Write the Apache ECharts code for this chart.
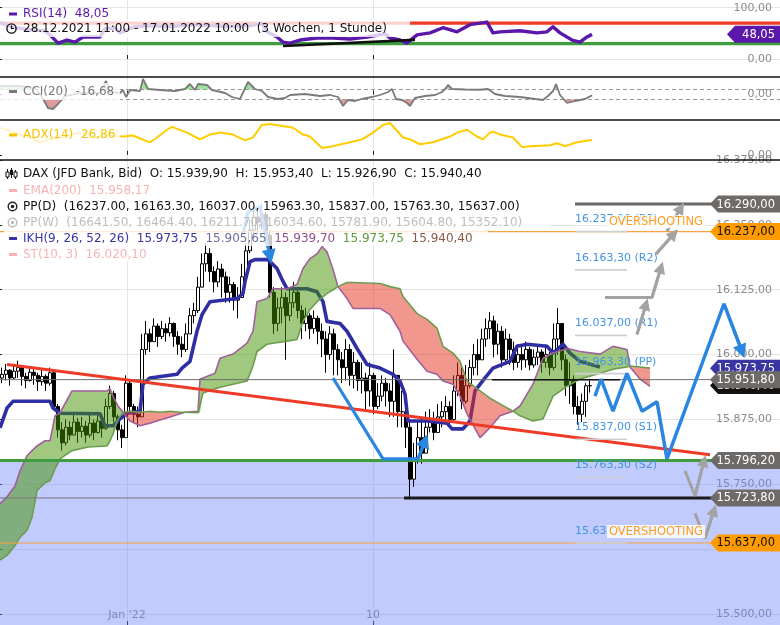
<!DOCTYPE html>
<html>
<head>
<meta charset="utf-8">
<title>DAX</title>
<script src="https://cdn.jsdelivr.net/npm/echarts@6.0.0/dist/echarts.min.js"></script>
<style>
html,body{margin:0;padding:0;background:#fff;}
#chart{width:780px;height:625px;}
</style>
</head>
<body>
<div id="chart"></div>
<script>
// ================= DATA =================
const SLOT_COUNT = 195; // time slots (candles + projection space)
const firstOpen = 15955;
const candleClose = [
15962,15970,15955,15968,15975,15958,15950,15966,15960,15948,
15958,15945,15965,15900,15855,15830,15860,15845,15870,15852,
15862,15845,15868,15850,15872,15858,15900,15925,15880,15855,
15840,15945,15900,15885,15880,16010,16040,16025,16055,16035,
16050,16042,16060,16035,16020,16010,16040,16075,16085,16130,
16175,16195,16160,16140,16165,16150,16120,16135,16105,16110,
16150,16200,16240,16265,16255,16270,16230,16120,16060,16090,
16110,16075,16100,16120,16085,16060,16075,16050,16070,16045,
16030,16000,16040,16010,15990,15975,16010,15960,15985,15950,
15955,15930,15960,15900,15920,15945,15930,15910,15960,15890,
15890,15860,15760,15800,15840,15810,15860,15875,15850,15880,
15890,15900,15875,15930,15960,15910,15940,15975,16000,15990,
16030,16050,16065,16020,16045,15990,16030,16010,15985,16000,
15990,16010,15980,15995,16005,15985,16000,15975,16030,16060,
15990,15940,15950,15900,15885,15910,15939.9,15940.4];
const candleHigh = [
15975,15982,15972,15980,15988,15978,15965,15978,15972,15965,
15972,15962,15975,15968,15905,15870,15875,15872,15885,15878,
15880,15872,15885,15875,15890,15880,15915,15940,15930,15885,
15865,15960,15950,15905,15900,16040,16065,16050,16070,16060,
16065,16060,16072,16062,16045,16035,16060,16090,16100,16150,
16195,16215,16205,16170,16180,16175,16160,16150,16140,16130,
16175,16215,16260,16285,16280,16290,16275,16240,16130,16110,
16130,16120,16125,16140,16130,16095,16090,16080,16085,16075,
16060,16045,16055,16050,16020,16005,16030,16020,16005,15990,
15985,15965,15985,15965,15945,15960,15955,15945,16010,15945,
15930,15900,15870,15830,15870,15880,15890,15895,15890,15905,
15910,15920,15910,15960,15985,15975,15980,15990,16020,16030,
16050,16070,16082,16075,16060,16055,16050,16040,16025,16020,
16020,16025,16015,16010,16020,16010,16020,16005,16060,16090,
16060,16000,15985,15960,15920,15925,15945,15953.4];
const candleLow = [
15945,15950,15940,15952,15955,15940,15935,15948,15942,15930,
15940,15930,15940,15895,15840,15815,15825,15835,15845,15830,
15840,15830,15840,15835,15848,15840,15855,15895,15870,15835,
15820,15840,15885,15870,15860,15880,16000,16005,16025,16015,
16030,16025,16035,16015,16000,15995,16005,16050,16060,16080,
16130,16160,16140,16120,16130,16110,16100,16100,16085,16070,
16120,16140,16195,16230,16235,16240,16215,16110,16040,16045,
16060,15990,16065,16090,16070,16030,16045,16030,16040,16020,
15995,15965,15990,15960,15960,15945,15950,15940,15935,15930,
15925,15890,15900,15885,15895,15910,15900,15880,15880,15860,
15860,15820,15724,15745,15790,15790,15820,15850,15835,15855,
15860,15870,15860,15870,15920,15895,15905,15935,15960,15960,
16000,16015,16030,15995,16000,15975,15985,15980,15970,15975,
15970,15975,15970,15975,15980,15965,15975,15960,15970,16000,
15970,15920,15905,15885,15865,15870,15880,15926.9];

// Ichimoku line (IKH)
const ikhX = [-0.5,1.25,2.75,12,12.75,14.5,24.5,25.75,27.75,29.5,31.25,34.5,35.25,37,43.75,45,47,48.75,50,52,58.75,60.25,60.75,62,63.25,66.5,68.75,70.25,71.25,76.25,78.75,80.25,81.25,84.5,86.25,88.75,91.25,94.5,97.75,99.5,100.75,101.5,106.25,111.25,112.5,115.25,117,118.25,120.75,122.75,127,128.75,131.25,136.25,137.75,140.25,142,144.5,149.5];
const ikhY = [15859,15897,15910,15910,15897,15887,15886,15863,15863,15876,15887,15891,15943,15955,15962,15974,15987,16045,16077,16102,16108,16118,16141,16179,16183,16183,16166,16141,16127,16127,16121,16102,16064,16060,16045,16012,15981,15974,15962,15949,15924,15872,15872,15868,15857,15857,15872,15930,15955,15974,15987,16016,16020,16016,16003,16020,16003,15987,15976];

// Ichimoku cloud (Senkou span A / B)
const cloudX = [-0.5,1.25,3.25,4.5,6.25,7.5,8.75,10.75,12,13.25,14.5,17.5,21.5,26.25,27,27.75,29,30.25,32,34.5,37,39.5,42,44.5,45.75,49,49.5,50.25,53.25,54.5,57.75,61.25,62.75,63.75,66.25,67.75,71.25,73.75,75.25,77,78.75,80,81.25,82.75,84,86.25,87.75,94.5,97,99.5,100.25,103.75,106.25,108.75,110.25,112.75,114.5,116.25,119.5,122,124.5,127.75,129.5,132.75,135.25,137.75,141.25,144.5,149.5,152.75,156.25,157,159.5,162];
const spanA = [15713,15726,15747,15776,15805,15815,15824,15834,15834,15882,15888,15930,15930,15930,15934,15920,15901,15889,15872,15863,15868,15874,15880,15886,15889,15891,15953,15955,15964,15993,16001,16022,16045,16102,16108,16127,16127,16135,16166,16185,16194,16208,16198,16164,16131,16108,16089,16089,16077,16045,16026,15991,15968,15962,15949,15943,15920,15886,15840,15859,15882,15891,15901,15943,15993,16003,16012,16006,16001,16016,16010,15976,15953,15939];
const spanB = [15604,15613,15632,15648,15661,15686,15738,15753,15757,15780,15799,15815,15822,15824,15834,15847,15876,15889,15891,15889,15891,15889,15891,15889,15889,15888,15888,15926,15934,15937,15943,15949,15978,16006,16020,16022,16026,16029,16064,16087,16102,16110,16118,16125,16131,16139,16139,16137,16131,16127,16112,16079,16068,16051,16016,16003,15987,15949,15930,15916,15905,15891,15882,15872,15876,15920,15939,15953,15964,15972,15976,15978,15976,15974];

// RSI(14)
const rsiX = [-0.5,0.75,3.25,7,10.75,12,14,16.25,18.25,20.25,24.5,25.75,28.25,29.5,30.75,33.25,37,42,47,52,57,62,65,66.25,68.75,70.25,72,74.5,78.75,82.75,87,91.25,95.75,97,99.5,101.25,103.75,107,110.25,113.75,117,121.25,122.75,124.5,129.5,133.75,136.25,137.75,139.5,142.5,144.5,146.25,147.5];
const rsiY = [71,67,61,57,55,47,31,37,33,43,43,59,61,51,55,63,65,63,67,65,63,65,69,53,43,33,31,37,41,41,39,43,49,41,37,31,47,51,61,53,67,72,51,53,55,51,53,63,51,37,33,43,48.05];
const rsiLevels = [70, 30];
const rsiTrendX = [70.25, 103.25];
const rsiTrendY = [25.5, 37.3];

// CCI(20)
const cciX = [-0.5,4.5,8.25,10,11.5,12.75,14,15.75,19.5,24.5,26,27,29.5,30.25,31,32,34.5,35.25,36.5,39.5,43.25,45.75,47,48.25,49,51.25,52.5,55.75,57.5,59.5,61.5,63.25,65,66.5,69,70.75,72,75.75,79.5,82,84,85.25,86.5,88.25,90,92.5,94.5,96.5,97.5,98.5,100,101.25,102,103.25,105.75,108.25,110,111,111.5,112.5,115.75,119.5,121.5,123.25,125.75,129.5,133.25,135.25,136.5,137.75,138.5,139.5,141.25,143.25,145.75,147.5];
const cciY = [170,170,130,-50,-270,-290,-190,-30,30,30,270,50,30,90,-50,90,70,310,110,90,70,110,210,90,210,190,90,30,-50,-90,250,110,70,-50,-90,-70,-10,10,-30,-10,-50,-230,-110,-130,-90,-50,-10,50,110,-90,-110,-170,-230,-70,-30,-10,50,130,190,110,100,95,110,10,-30,-50,-90,-110,-30,70,210,-10,-170,-130,-90,-16.68];
const cciBands = [100, -100];

// ADX(14)
const adxX = [-0.5,2,4.5,7,9.5,12,14.5,19.5,23.25,27,30.25,32.75,36.25,37,38.75,41.25,42.5,46.25,49.5,52,54.5,57.75,60.75,62.75,65,67,71.25,72.75,75.25,77,80,82.75,87,90,92.75,95.25,97,100.25,102,104.5,107.75,112,113.75,116.25,118.75,120.25,122,122.75,124.5,127.75,130,132,137,138.75,140.75,143.75,147,147.5];
const adxY = [50,44.6,37.5,32.1,23.2,28.6,32.1,41.1,32.1,35.7,33.9,35.7,25,23.2,32.1,46.4,51.8,41.1,28.6,37.5,41.1,37.5,26.8,32.1,55.3,57.1,51.8,50,37.5,33.9,12.5,16.1,23.2,28.6,41.1,55.3,58.9,32.1,28.6,19.6,23.2,33.9,41.1,46.4,33.9,28.6,41.1,42.8,37.5,32.1,14.3,16.1,17.9,21.4,16.1,23.2,26.8,26.86];

// axis ticks
const xTickPos = [31.25, 92.75];
const xTickLabels = ["Jan '22", "10"];
const mainGridTicks = [15500,15625,15750,15875,16000,16125,16250,16375];
const mainLabelTicks = [15500,15750,15875,16000,16125,16250,16375];
const rsiTicks = [0, 100];
const zeroTicks = [0];

// levels
const supportLevel = 15796.2;
const resistanceLevel = 16290;
const overshootHigh = 16237;
const overshootLow = 15637;
const lowLevel = 15723.8;
const lastPrice = 15951.8;
const ikhLast = 15973.75;
const closeLast = 15940.4;
const trendX = [1.25, 177];
const trendY = [15981, 15807];
const resistFromX = 143.25;
const lowFromX = 100.5;
const priceSegX = [122.5, 154.5];

// daily pivots
const pivotValues = [16237, 16163.3, 16037, 15963.3, 15837, 15763.3, 15637];
const pivotNames = ['R3','R2','R1','PP','S1','S2','S3'];
const pivotFromX = 143.25, pivotToX = 156.25;
const weeklyPivots = [16641.5, 16464.4, 16211.7, 16034.6, 15781.9, 15604.8, 15352.1];
const overshootX = [151.25, 151.25];
const overshootY = [16256, 15659];

// projections
const blueZigX = [148.25,149.75,152.75,156.25,160,163.75,166.25,180.5,185];
const blueZigY = [15920,15953,15891,15964,15891,15909,15799,16098,16006];
const blueLeftX = [82.75,95.25,104,105.75];
const blueLeftY = [15955,15799,15799,15834];
const blueOldX = [60.25,61.5,64.5,67];
const blueOldY = [16231,16275,16285,16189];
const grayUp1X = [158.75,161], grayUp1Y = [16039,16097];
const grayUp2X = [150.75,162.5,164.75], grayUp2Y = [16110,16110,16168];
const grayUp3X = [163.5,168], grayUp3Y = [16194,16233];
const grayUp4X = [166.25,169.75], grayUp4Y = [16238,16283];
const grayDn1X = [170.75,173.25,175.5], grayDn1Y = [15776,15728,15795];
const grayDn2X = [173.25,175.75,178], grayDn2Y = [15694,15646,15700];

// legend values
const emaValue = 15958.17;
const stValue = 16020.10;
const ikhValues = [15973.75, 15905.65, 15939.70, 15973.75, 15940.40];
const periodText = '28.12.2021 11:00 - 17.01.2022 10:00  (3 Wochen, 1 Stunde)';

// ================= HELPERS =================
function de(v){
  const neg = v < 0;
  const p = Math.abs(v).toFixed(2).split('.');
  return (neg ? '-' : '') + p[0].replace(/\B(?=(\d{3})+(?!\d))/g, '.') + ',' + p[1];
}
function zip(xs, ys){ return xs.map((x, i) => [x, ys[i]]); }
const FONT = '"DejaVu Sans", sans-serif';

const candleData = candleClose.map((c, i) => {
  const o = i === 0 ? firstOpen : candleClose[i - 1];
  return [o, c, Math.min(candleLow[i], o, c), Math.max(candleHigh[i], o, c)];
});
const lastCandle = candleData[candleData.length - 1];

// split the region between two lines into same-sign polygons
function buildRuns(xs, A, B){
  const runs = [];
  let cur = null;
  for (let k = 0; k < xs.length; k++){
    const x = xs[k], a = A[k], b = B[k], d1 = a - b;
    if (!cur){ cur = {s: Math.sign(d1), A: [[x, a]], B: [[x, b]]}; continue; }
    const d0 = A[k-1] - B[k-1];
    if (d1 === 0){
      cur.A.push([x, a]); cur.B.push([x, b]); if (cur.s === 0) cur.s = Math.sign(d0);
      runs.push(cur); cur = {s: 0, A: [[x, a]], B: [[x, b]]};
    } else if (d0 * d1 < 0){
      const t = d0 / (d0 - d1);
      const cx = xs[k-1] + (x - xs[k-1]) * t;
      const ca = A[k-1] + (a - A[k-1]) * t;
      cur.A.push([cx, ca]); cur.B.push([cx, ca]); runs.push(cur);
      cur = {s: Math.sign(d1), A: [[cx, ca], [x, a]], B: [[cx, ca], [x, b]]};
    } else {
      if (cur.s === 0) cur.s = Math.sign(d1);
      cur.A.push([x, a]); cur.B.push([x, b]);
    }
  }
  runs.push(cur);
  return runs.filter(r => r.A.length > 1);
}
const cloudRuns = buildRuns(cloudX, spanA, spanB);
const cciUpRuns = buildRuns(cciX, cciY, cciX.map(() => cciBands[0])).filter(r => r.s > 0);
const cciDnRuns = buildRuns(cciX, cciY, cciX.map(() => cciBands[1])).filter(r => r.s < 0);

// ================= CHART =================
const chart = echarts.init(document.getElementById('chart'), null, {renderer: 'canvas'});

function xValAxis(gi, showLabel){
  return {
    gridIndex: gi, type: 'value', min: -0.5, max: SLOT_COUNT - 0.5, position: 'bottom',
    axisLine: {show: false},
    axisTick: {show: true, inside: true, length: 4, customValues: xTickPos, lineStyle: {color: '#222'}},
    axisLabel: {show: showLabel, inside: true, customValues: xTickPos, margin: 4, color: '#8a8a8a', fontSize: 11, fontFamily: FONT,
      formatter: v => { let bi = 0; xTickPos.forEach((p, i) => { if (Math.abs(p - v) < Math.abs(xTickPos[bi] - v)) bi = i; }); return xTickLabels[bi]; }},
    splitLine: {show: true, lineStyle: {color: '#e4e4e4', width: 1}}
  };
}
function yAxisR(gi, min, max, ticks, labelTicks, split){
  return {
    gridIndex: gi, type: 'value', position: 'right', min: min, max: max,
    axisLine: {show: false},
    axisTick: {show: true, inside: true, length: 5, customValues: ticks, lineStyle: {color: '#222'}},
    axisLabel: {show: true, inside: true, customValues: labelTicks, margin: 8, color: '#8a8a8a', fontSize: 11, fontFamily: FONT, formatter: v => de(v)},
    splitLine: {show: split, lineStyle: {color: '#e6e6e6', width: 1}}
  };
}

function lineS(xi, yi, xs, ys, color, width, z, extra){
  return Object.assign({type: 'line', xAxisIndex: xi, yAxisIndex: yi, data: zip(xs, ys), symbol: 'none', silent: true,
    lineStyle: {color: color, width: width}, z: z}, extra || {});
}
function arrowS(xi, yi, xs, ys, color, size, z){
  const n = xs.length;
  return {type: 'lines', coordinateSystem: 'cartesian2d', xAxisIndex: xi, yAxisIndex: yi, silent: true, z: z,
    data: [{coords: [[xs[n-2], ys[n-2]], [xs[n-1], ys[n-1]]]}],
    symbol: ['none', 'triangle'], symbolSize: size, lineStyle: {color: color, width: 3, opacity: 1, curveness: 0}};
}
function polySeries(xi, yi, runs, fillFn, z){
  return {type: 'custom', xAxisIndex: xi, yAxisIndex: yi, z: z, silent: true,
    data: runs.map(r => r.A[0]),
    renderItem: function(params, api){
      const run = runs[params.dataIndex];
      const pts = run.A.concat(run.B.slice().reverse()).map(p => api.coord(p));
      return {type: 'polygon', shape: {points: pts}, style: {fill: fillFn(run)}};
    }};
}
const FULL = [-0.5, SLOT_COUNT - 0.5];
function hline(v, x0, x1, color, width, z, extra){ return lineS(3, 3, [x0, x1], [v, v], color, width, z, extra); }

function flagSeries(xi, yi, values, fills, textFills, width, z){
  return {
    type: 'custom', xAxisIndex: xi, yAxisIndex: yi, z: z, silent: true,
    data: values.map(v => [0, v]),
    renderItem: function(params, api){
      const i = params.dataIndex;
      const v = api.value(1);
      const y = api.coord([0, v])[1];
      const cs = params.coordSys;
      const r = cs.x + cs.width;
      const h = 8.5, tip = 8, w = width;
      return {type: 'group', children: [
        {type: 'polygon', shape: {points: [[r - w, y], [r - w + tip, y - h], [r, y - h], [r, y + h], [r - w + tip, y + h]]}, style: {fill: fills[i]}},
        {type: 'text', x: r - 5, y: y + 0.5, style: {text: de(v), fill: textFills[i], font: '11.5px ' + FONT, align: 'right', verticalAlign: 'middle', textAlign: 'right', textVerticalAlign: 'middle'}}
      ]};
    }
  };
}

const series = [
  // ---------- RSI ----------
  lineS(0, 0, FULL, [rsiLevels[0], rsiLevels[0]], '#f03a26', 3.2, 2),
  lineS(0, 0, FULL, [rsiLevels[1], rsiLevels[1]], '#3d9c3d', 3.2, 2),
  lineS(0, 0, rsiX, rsiY, '#5a17aa', 3.4, 3, {lineStyle: {color: '#5a17aa', width: 3.4, join: 'round'}}),
  lineS(0, 0, rsiTrendX, rsiTrendY, '#111', 2.6, 4),
  flagSeries(0, 0, [rsiY[rsiY.length - 1]], ['#5a17aa'], ['#fff'], 53, 10),

  // ---------- CCI ----------
  polySeries(1, 1, cciUpRuns, () => '#9fe29b', 1),
  polySeries(1, 1, cciDnRuns, () => '#e09a9a', 1),
  lineS(1, 1, FULL, [cciBands[0], cciBands[0]], '#9a9a9a', 1, 2, {lineStyle: {color: '#9a9a9a', width: 1, type: [4, 3]}}),
  lineS(1, 1, FULL, [cciBands[1], cciBands[1]], '#9a9a9a', 1, 2, {lineStyle: {color: '#9a9a9a', width: 1, type: [4, 3]}}),
  lineS(1, 1, cciX, cciY, '#7a7a7a', 1.8, 3),

  // ---------- ADX ----------
  lineS(2, 2, adxX, adxY, '#ffcc00', 2, 3),

  // ---------- MAIN ----------
  lineS(3, 3, FULL, [supportLevel, supportLevel], 'rgba(0,0,0,0)', 0, 1, {areaStyle: {origin: 'start', color: 'rgba(110,130,250,0.42)', opacity: 1}}),
  {type: 'candlestick', xAxisIndex: 4, yAxisIndex: 3, data: candleData, barWidth: 3, silent: true, z: 2,
    itemStyle: {color: '#ffffff', color0: '#000000', borderColor: '#000000', borderColor0: '#000000', borderWidth: 1}},
  lineS(3, 3, ikhX, ikhY, '#2f2fa3', 3.6, 3, {lineStyle: {color: '#2f2fa3', width: 3.6, join: 'round'}}),
  polySeries(3, 3, cloudRuns, r => r.s >= 0 ? 'rgba(65,145,0,0.5)' : 'rgba(228,48,30,0.5)', 4),
  lineS(3, 3, cloudX, spanA, '#a0609c', 1.6, 4),
  lineS(3, 3, cloudX, spanB, '#6c9c4e', 1.6, 4),

  // levels
  hline(lastPrice, FULL[0], FULL[1], '#6e6e6e', 1, 5),
  hline(lowLevel, FULL[0], FULL[1], '#777', 1, 5),
  hline(lowLevel, lowFromX, FULL[1], '#1a1a1a', 3, 5),
  hline(overshootHigh, FULL[0], FULL[1], '#f7a23a', 1.2, 5),
  hline(overshootLow, FULL[0], FULL[1], '#f7a23a', 1.2, 5),
  hline(resistanceLevel, resistFromX, FULL[1], '#6b6867', 3, 5),
  hline(lastPrice, priceSegX[0], priceSegX[1], '#111', 1.5, 5),
  lineS(3, 3, trendX, trendY, '#ee3b28', 3, 6),
  hline(supportLevel, FULL[0], FULL[1], '#3f9c3f', 3, 6),

  // pivots
  {type: 'custom', xAxisIndex: 3, yAxisIndex: 3, z: 7, silent: true,
    data: pivotValues.map(v => [pivotFromX, v]),
    renderItem: function(params, api){
      const v = api.value(1);
      const a = api.coord([pivotFromX, v]), b = api.coord([pivotToX, v]);
      return {type: 'group', children: [
        {type: 'line', shape: {x1: a[0], y1: a[1], x2: b[0], y2: b[1]}, style: {stroke: '#cfcfcf', lineWidth: 1.6}},
        {type: 'text', x: a[0], y: a[1] - 12, style: {text: de(v) + ' (' + pivotNames[params.dataIndex] + ')', fill: '#4394e6', font: '11px ' + FONT, align: 'left', verticalAlign: 'middle', textAlign: 'left', textVerticalAlign: 'middle'}}
      ]};
    }},

  // projections
  lineS(3, 3, blueOldX, blueOldY, '#2a86e0', 3.2, 7),
  arrowS(3, 3, blueOldX, blueOldY, '#2a86e0', 14, 7),
  lineS(3, 3, blueLeftX, blueLeftY, '#2a86e0', 3.2, 7),
  arrowS(3, 3, blueLeftX, blueLeftY, '#2a86e0', 14, 7),
  lineS(3, 3, blueZigX, blueZigY, '#2a86e0', 3.5, 7),
  arrowS(3, 3, blueZigX, blueZigY, '#2a86e0', 14, 7),
  lineS(3, 3, grayUp1X, grayUp1Y, '#a3a3a3', 3, 7), arrowS(3, 3, grayUp1X, grayUp1Y, '#a3a3a3', 12, 7),
  lineS(3, 3, grayUp2X, grayUp2Y, '#a3a3a3', 3, 7), arrowS(3, 3, grayUp2X, grayUp2Y, '#a3a3a3', 12, 7),
  lineS(3, 3, grayUp3X, grayUp3Y, '#a3a3a3', 3, 7), arrowS(3, 3, grayUp3X, grayUp3Y, '#a3a3a3', 12, 7),
  lineS(3, 3, grayUp4X, grayUp4Y, '#a3a3a3', 3, 7), arrowS(3, 3, grayUp4X, grayUp4Y, '#a3a3a3', 12, 7),
  lineS(3, 3, grayDn1X, grayDn1Y, '#a3a3a3', 3, 7), arrowS(3, 3, grayDn1X, grayDn1Y, '#a3a3a3', 12, 7),
  lineS(3, 3, grayDn2X, grayDn2Y, '#a3a3a3', 3, 7), arrowS(3, 3, grayDn2X, grayDn2Y, '#a3a3a3', 12, 7),

  // overshooting labels
  {type: 'custom', xAxisIndex: 3, yAxisIndex: 3, z: 8, silent: true,
    data: zip(overshootX, overshootY),
    renderItem: function(params, api){
      const c = api.coord([api.value(0), api.value(1)]);
      return {type: 'text', x: c[0], y: c[1], style: {text: 'OVERSHOOTING', fill: '#ff9d1f', font: '11.5px ' + FONT, align: 'left', verticalAlign: 'middle', textAlign: 'left', textVerticalAlign: 'middle', backgroundColor: 'rgba(255,255,255,0.85)', padding: [1, 2, 0, 2]}};
    }},

  // price flags
  flagSeries(3, 3,
    [resistanceLevel, overshootHigh, closeLast, ikhLast, lastPrice, supportLevel, lowLevel, overshootLow],
    ['#6e6a68', '#ff9b00', '#111111', '#3a35a3', '#6e6a68', '#6e6a68', '#6e6a68', '#ff9b00'],
    ['#fff', '#111', '#fff', '#fff', '#fff', '#fff', '#fff', '#111'], 70, 10)
];

// ---------- overlay texts ----------
const F = '12px ' + FONT;
const BG = 'rgba(255,255,255,0.78)';
const bg = (x, y, w, h) => ({type: 'rect', silent: true, z: 100, shape: {x: x, y: y, width: w, height: h}, style: {fill: BG}});
const tx = (x, y, text, fill, rich) => ({type: 'text', silent: true, z: 102, x: x, y: y,
  style: Object.assign({text: text, fill: fill, font: F, align: 'left', verticalAlign: 'middle', textAlign: 'left', textVerticalAlign: 'middle'}, rich ? {rich: rich} : {})});
const dash = (y, color) => ({type: 'rect', silent: true, z: 102, shape: {x: 9, y: y - 1.5, width: 8, height: 3}, style: {fill: color}});
const sep = y => ({type: 'line', silent: true, z: 110, shape: {x1: 0, y1: y, x2: 780, y2: y}, style: {stroke: '#111', lineWidth: 1.4}});
const ring = (y, color) => [
  {type: 'circle', silent: true, z: 102, shape: {cx: 12.5, cy: y, r: 4.3}, style: {fill: 'none', stroke: color, lineWidth: 1.4}},
  {type: 'circle', silent: true, z: 102, shape: {cx: 12.5, cy: y, r: 1.8}, style: {fill: color}}
];

const graphics = [
  // RSI
  dash(14, '#5a17aa'),
  tx(23, 14, 'RSI(14)  ' + de(rsiY[rsiY.length - 1]), '#5a17aa'),
  bg(0, 20, 410, 17),
  {type: 'circle', silent: true, z: 102, shape: {cx: 11.5, cy: 28.5, r: 4.6}, style: {fill: 'none', stroke: '#111', lineWidth: 1.4}},
  {type: 'polyline', silent: true, z: 102, shape: {points: [[11.5, 25.5], [11.5, 28.5], [14, 28.5]]}, style: {stroke: '#111', lineWidth: 1.2, fill: 'none'}},
  tx(23, 29, periodText, '#111'),
  // CCI
  bg(0, 83, 120, 17),
  dash(91.5, '#7a7a7a'),
  tx(23, 91.5, 'CCI(20)  ' + de(cciY[cciY.length - 1]), '#7a7a7a'),
  // ADX
  bg(0, 126, 120, 17),
  dash(135, '#f5c400'),
  tx(23, 135, 'ADX(14)  ' + de(adxY[adxY.length - 1]), '#f5c400'),
  // main legend backgrounds
  bg(4, 166, 488, 16), bg(4, 182, 153, 16), bg(4, 198, 540, 16), bg(4, 214, 546, 16), bg(4, 230, 484, 16), bg(4, 246, 164, 16),
  // DAX icon
  {type: 'polyline', silent: true, z: 102, shape: {points: [[7.5, 169], [7.5, 179]]}, style: {stroke: '#111', lineWidth: 1}},
  {type: 'polyline', silent: true, z: 102, shape: {points: [[11.5, 168], [11.5, 178]]}, style: {stroke: '#111', lineWidth: 1}},
  {type: 'polyline', silent: true, z: 102, shape: {points: [[15.5, 170], [15.5, 179]]}, style: {stroke: '#111', lineWidth: 1}},
  {type: 'rect', silent: true, z: 102, shape: {x: 6, y: 172, width: 3, height: 5}, style: {fill: '#fff', stroke: '#111', lineWidth: 1}},
  {type: 'rect', silent: true, z: 102, shape: {x: 10, y: 170, width: 3, height: 5}, style: {fill: '#111'}},
  {type: 'rect', silent: true, z: 102, shape: {x: 14, y: 172, width: 3, height: 5}, style: {fill: '#fff', stroke: '#111', lineWidth: 1}},
  tx(23, 174, 'DAX (JFD Bank, Bid)  O: ' + de(lastCandle[0]) + '  H: ' + de(lastCandle[3]) + '  L: ' + de(lastCandle[2]) + '  C: ' + de(lastCandle[1]), '#111'),
  dash(190.5, '#f7b4b4'),
  tx(23, 190.5, 'EMA(200)  ' + de(emaValue), '#f7b4b4'),
  ...ring(206.5, '#222'),
  tx(23, 206.5, 'PP(D)  (' + pivotValues.map(v => v.toFixed(2)).join(', ') + ')', '#111'),
  ...ring(222.5, '#bdbdbd'),
  tx(23, 222.5, 'PP(W)  (' + weeklyPivots.map(v => v.toFixed(2)).join(', ') + ')', '#bdbdbd'),
  dash(238.5, '#3535a8'),
  tx(23, 238.5, '{a|IKH(9, 26, 52, 26)  ' + de(ikhValues[0]) + '}  {b|' + de(ikhValues[1]) + '}  {c|' + de(ikhValues[2]) + '}  {d|' + de(ikhValues[3]) + '}  {e|' + de(ikhValues[4]) + '}', '#3535a8',
    {a: {fill: '#3535a8', font: F}, b: {fill: '#6a6c9c', font: F}, c: {fill: '#93508f', font: F}, d: {fill: '#5f9a40', font: F}, e: {fill: '#8a5a48', font: F}}),
  dash(254.5, '#f7b4b4'),
  tx(23, 254.5, 'ST(10, 3)  ' + de(stValue), '#f7b4b4'),
  // separators
  sep(77), sep(120), sep(160)
];

const option = {
  animation: false,
  backgroundColor: '#ffffff',
  textStyle: {fontFamily: FONT},
  grid: [
    {left: 0, right: 0, top: 0, height: 77},
    {left: 0, right: 0, top: 77, height: 43},
    {left: 0, right: 0, top: 120, height: 40},
    {left: 0, right: 0, top: 160, height: 465}
  ],
  xAxis: [
    xValAxis(0, false), xValAxis(1, false), xValAxis(2, false), xValAxis(3, true),
    {gridIndex: 3, type: 'category', position: 'top', show: false, boundaryGap: true,
      data: Array.from({length: SLOT_COUNT}, (_, i) => String(i))}
  ],
  yAxis: [
    yAxisR(0, -35, 115, rsiTicks, rsiTicks, true),
    yAxisR(1, -510, 350, zeroTicks, zeroTicks, false),
    yAxisR(2, -9.5, 64.4, zeroTicks, zeroTicks, false),
    yAxisR(3, 15479, 16375, mainGridTicks, mainLabelTicks, true)
  ],
  series: series,
  graphic: {elements: graphics}
};
chart.setOption(option);
</script>
</body>
</html>
